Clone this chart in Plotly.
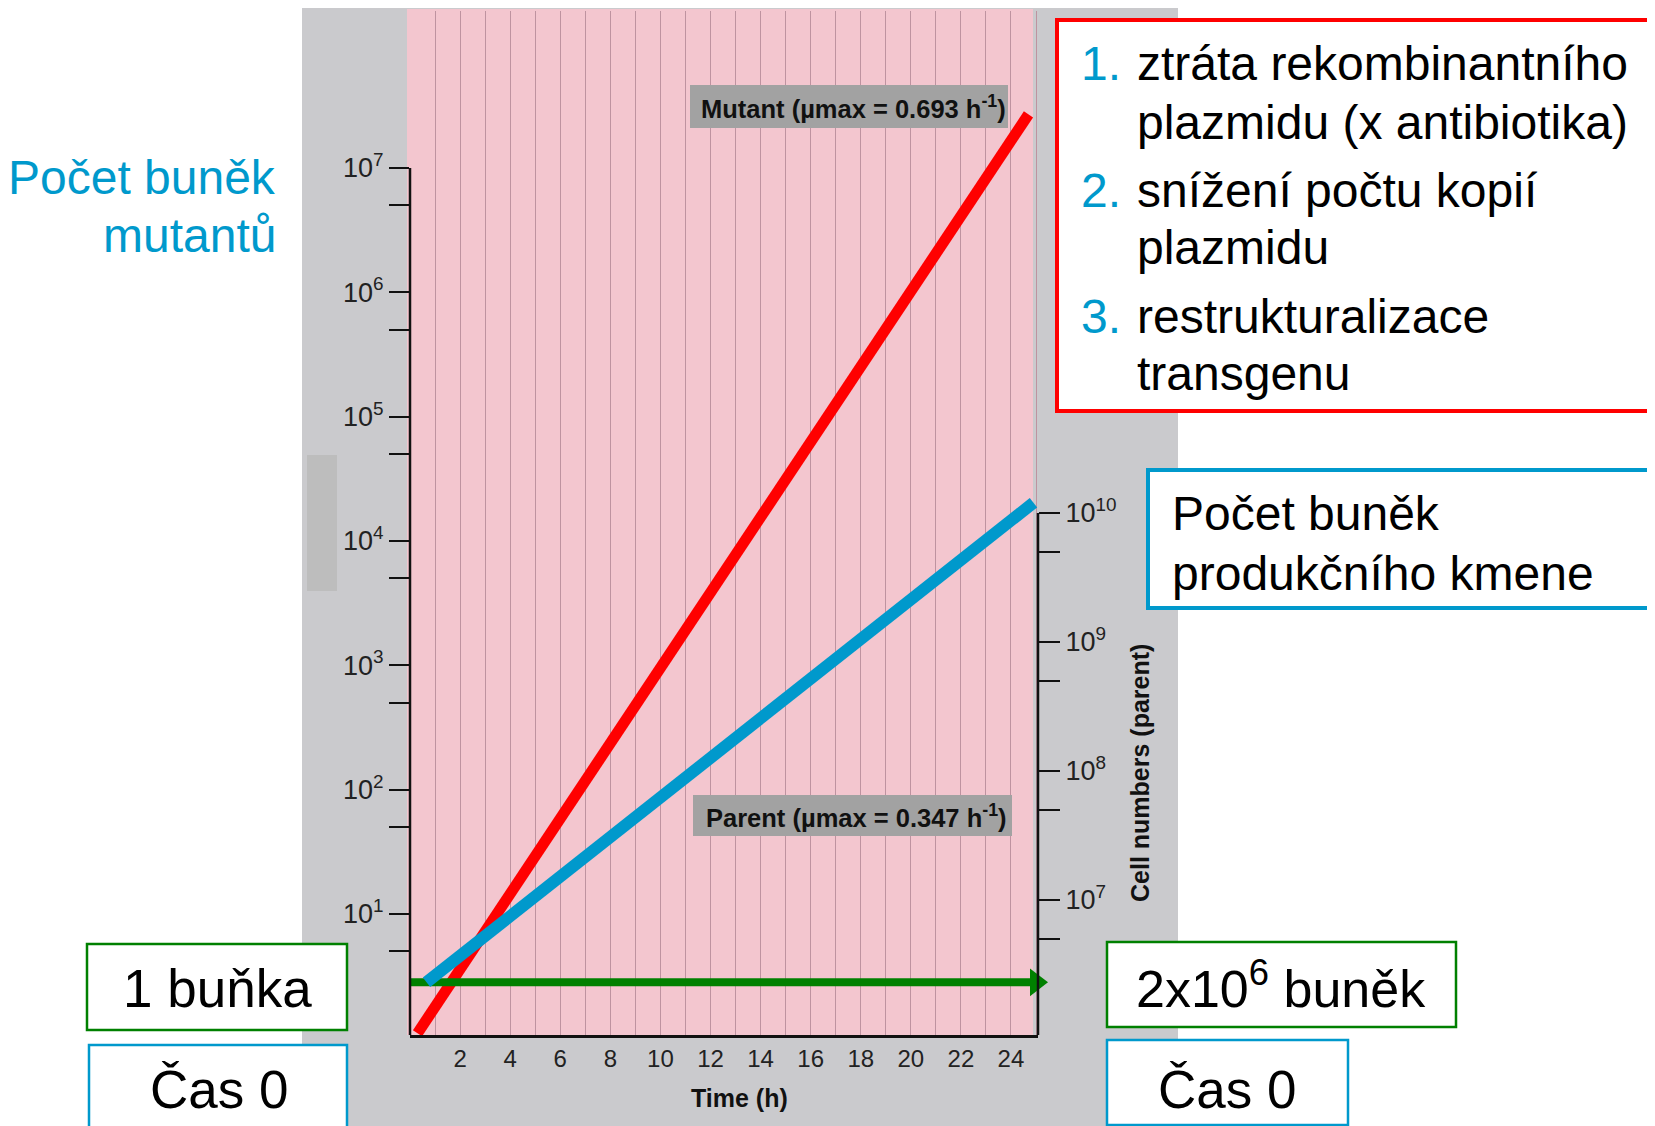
import numpy as np
import plotly.graph_objects as go

# values
hours_mutant = [0.3, 24.7]
cells_mutant = [1.1, 2.7e7]
hours_parent = [0.66, 24.9]
cells_parent = [2.3e6, 1.2e10]
hours_start = [0, 25.0]
cells_start = [2.3e6, 2.3e6]

x_ticks = list(range(2, 25, 2))
left_major = [1e1, 1e2, 1e3, 1e4, 1e5, 1e6, 1e7]
left_minor = [5e0, 5e1, 5e2, 5e3, 5e4, 5e5, 5e6]
right_major = [1e7, 1e8, 1e9, 1e10]
right_minor = [5e6, 5e7, 5e8, 5e9]

RED = "#FF0000"
BLUE = "#0099CC"
GREEN = "#008000"
PINK = "#F3C6CF"
GRAY = "#CACACD"
GRID = "#BE93A0"
LABEL_GRAY = "#A2A2A2"
FONT = "Liberation Sans, Arial, sans-serif"

# page body keeps an 8px margin, so the figure sits 8px in from the corner
OFFSET = 8
W, H = 1655 - OFFSET, 1126 - OFFSET
PLOT_X0, PLOT_X1 = 410, 1038   # plot area in screen pixels
PLOT_Y0, PLOT_Y1 = 11, 1035
Y_RANGE = [0.027, 8.263]
Y2_RANGE = [5.953, 13.891]


def px(x):
    return (x - PLOT_X0) / (PLOT_X1 - PLOT_X0)


def py(y):
    return (PLOT_Y1 - y) / (PLOT_Y1 - PLOT_Y0)


def frac(v, rng):
    return (np.log10(v) - rng[0]) / (rng[1] - rng[0])


def sup(v):
    return f"10<sup>{int(round(np.log10(v)))}</sup>"


fig = go.Figure()
fig.add_trace(go.Scatter(x=hours_mutant, y=cells_mutant, mode="lines",
                         line=dict(color=RED, width=11), yaxis="y"))
fig.add_trace(go.Scatter(x=hours_start, y=cells_start, mode="lines",
                         line=dict(color=GREEN, width=8), yaxis="y2", cliponaxis=False))
fig.add_trace(go.Scatter(x=hours_start[-1:], y=cells_start[-1:], mode="markers",
                         marker=dict(symbol="triangle-right", size=24, color=GREEN,
                                     line=dict(width=0)),
                         yaxis="y2", cliponaxis=False))
fig.add_trace(go.Scatter(x=hours_parent, y=cells_parent, mode="lines",
                         line=dict(color=BLUE, width=12), yaxis="y2"))


def rect(x0, y0, x1, y1, fill, line_color=None, lw=0, layer="above"):
    return dict(type="rect", xref="paper", yref="paper",
                x0=px(x0), x1=px(x1), y0=py(y1), y1=py(y0),
                fillcolor=fill, layer=layer,
                line=dict(color=line_color or fill, width=lw))


shapes = [
    rect(302, 6, 1178, 1140, GRAY, layer="below"),
    rect(307, 455, 337, 591, "#BDBDBD", layer="below"),
    rect(407, 9, 1033, 1035, PINK, layer="below"),
    # partial axis lines
    dict(type="line", xref="paper", yref="paper", x0=0, x1=0,
         y0=0, y1=frac(1e7, Y_RANGE), line=dict(color="#111", width=2.5)),
    dict(type="line", xref="paper", yref="paper", x0=1, x1=1,
         y0=0, y1=frac(1e10, Y2_RANGE), line=dict(color="#111", width=2.5)),
    # label boxes
    rect(690, 85, 1008, 128, LABEL_GRAY),
    rect(693, 795, 1012, 836, LABEL_GRAY),
    # callout boxes
    rect(1057, 20, 1720, 411, "white", RED, 4),
    rect(1148, 470, 1720, 608, "white", BLUE, 4),
    rect(87, 944, 347, 1030, "white", GREEN, 2.5),
    rect(89, 1045, 347, 1150, "white", BLUE, 2.5),
    rect(1107, 942, 1456, 1027, "white", GREEN, 2.5),
    rect(1107, 1040, 1348, 1125, "white", BLUE, 2.5),
]

ann = []


def text(t, x, y, size, color="black", xanchor="center", angle=0):
    ann.append(dict(text=t, xref="paper", yref="paper", x=px(x), y=py(y),
                    xanchor=xanchor, yanchor="middle", showarrow=False,
                    textangle=angle, font=dict(family=FONT, size=size, color=color)))


text("Počet buněk", 278, 177, 48, BLUE, "right")
text("mutantů", 278, 235, 48, BLUE, "right")

for num, y in [("1.", 63), ("2.", 190), ("3.", 316)]:
    text(num, 1079, y, 48, BLUE, "left")
for line, y in [("ztráta rekombinantního", 63), ("plazmidu (x antibiotika)", 122),
                ("snížení počtu kopií", 190), ("plazmidu", 247),
                ("restrukturalizace", 316), ("transgenu", 373)]:
    text(line, 1135, y, 48, "black", "left")

text("Počet buněk", 1170, 513, 48, "black", "left")
text("produkčního kmene", 1170, 573, 48, "black", "left")

text("1 buňka", 217.5, 988, 53)
text("Čas 0", 218.5, 1089, 53)
text("2x10<sup>6</sup> buněk", 1281, 985, 52)
text("Čas 0", 1226.5, 1089, 53)

text("<b>Mutant (µmax = 0.693 h<sup>-1</sup>)</b>", 853, 106.5, 25.5, "#111")
text("<b>Parent (µmax = 0.347 h<sup>-1</sup>)</b>", 856, 815.5, 25.5, "#111")
text("<b>Time (h)</b>", 739, 1098, 25, "#111")
text("<b>Cell numbers (parent)</b>", 1140, 773, 25, "#111", angle=-90)

fig.update_layout(
    width=W, height=H, autosize=False,
    margin=dict(l=PLOT_X0 - OFFSET, r=W - (PLOT_X1 - OFFSET),
                t=PLOT_Y0 - OFFSET, b=H - (PLOT_Y1 - OFFSET), pad=0),
    paper_bgcolor="white", plot_bgcolor="rgba(0,0,0,0)",
    showlegend=False,
    font=dict(family=FONT, color="#222"),
    shapes=shapes, annotations=ann,
    xaxis=dict(range=[0, 25.08], tickvals=x_ticks, ticks="",
               tickfont=dict(size=24, color="#222"),
               showgrid=True, gridcolor=GRID, gridwidth=1,
               minor=dict(tick0=0, dtick=1, showgrid=True, gridcolor=GRID, gridwidth=1),
               showline=True, linecolor="#111", linewidth=2.5, zeroline=False),
    yaxis=dict(type="log", range=Y_RANGE,
               tickvals=left_major + left_minor,
               ticktext=[sup(v) for v in left_major] + [""] * len(left_minor),
               ticks="outside", ticklen=20, tickwidth=2, tickcolor="#111",
               tickfont=dict(size=27, color="#222"),
               showgrid=False, zeroline=False, showline=False),
    yaxis2=dict(type="log", range=Y2_RANGE, overlaying="y", side="right", anchor="x",
                tickvals=right_major + right_minor,
                ticktext=[sup(v) for v in right_major] + [""] * len(right_minor),
                ticks="outside", ticklen=21, tickwidth=2, tickcolor="#111",
                tickfont=dict(size=27, color="#222"),
                showgrid=False, zeroline=False, showline=False),
)

fig.write_html("out.html")
